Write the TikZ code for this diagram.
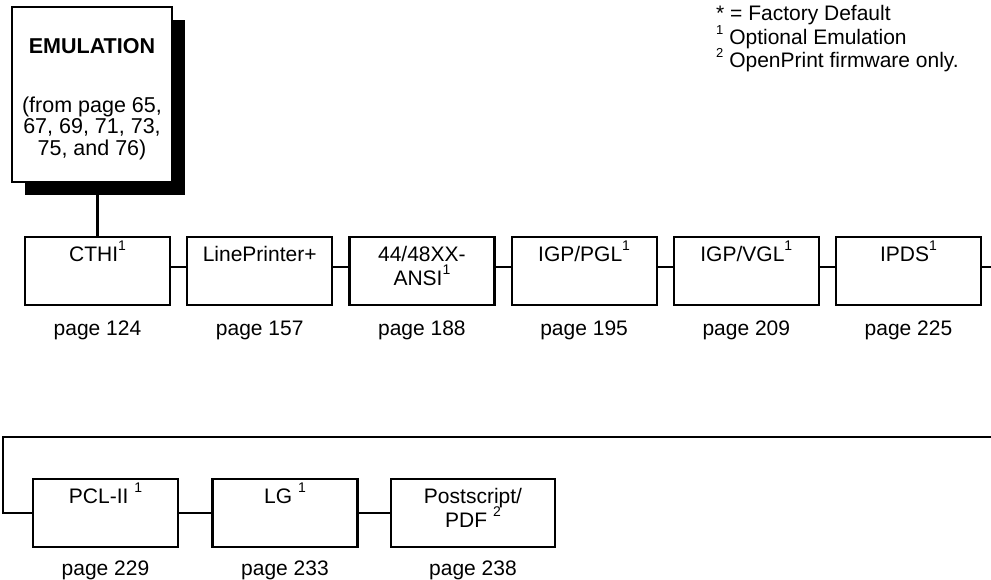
\documentclass[tikz,border=0pt]{standalone}
\usepackage{fontspec}
\setmainfont{Liberation Sans}
\usetikzlibrary{positioning, shadows}
\newcommand{\fnmark}[2][14]{\smash{\raisebox{0.48em}{\fontsize{#1}{#1}\selectfont #2}}}
\newcommand{\menutext}[2][145pt]{\parbox[t][68pt][t]{#1}{\centering\rule{0pt}{24pt}#2}}

\begin{document}
\begin{tikzpicture}[x=1pt, y=-1pt,
    menubox/.style={draw, fill=white, line width=2.2pt, inner sep=0pt, font=\fontsize{21}{24}\selectfont},
    pagelbl/.style={inner sep=0pt, font=\fontsize{21}{24}\selectfont},
    link/.style={line width=2.2pt}]
  \useasboundingbox (0,0) rectangle (991,579);

  % --- Entry menu ---
  \node[menubox, font=\fontsize{21.5}{21.5}\selectfont,
        drop shadow={shadow xshift=13pt, shadow yshift=-13pt, fill=black, opacity=1}]
    (emu) at (92,94.5) {\parbox[t][175pt][t]{160pt}{\centering\rule{0pt}{46pt}\textbf{EMULATION}\\[37.5pt](from page 65,\\67, 69, 71, 73,\\75, and 76)}};

  % --- Footnotes ---
  \node[anchor=north west, inner sep=0pt, align=left, font=\fontsize{21}{23.5}\selectfont]
    (notes) at (716,5.5) {* = Factory Default\\\fnmark[13]{1} Optional Emulation\\\fnmark[13]{2} OpenPrint firmware only.};

  % --- First row ---
  \node[menubox] (cthi) at (97.5,271) {\menutext{CTHI\fnmark{1}}};
  \node[menubox] (lpp)  at (259.7,271) {\menutext{LinePrinter+}};
  \node[menubox] (ansi) at (421.9,271) {\menutext{44/48XX-\\ANSI\fnmark{1}}};
  \node[menubox] (pgl)  at (584.1,271) {\menutext{IGP/PGL\fnmark{1}}};
  \node[menubox] (vgl)  at (746.3,271) {\menutext{IGP/VGL\fnmark{1}}};
  \node[menubox] (ipds) at (908.5,271) {\menutext{IPDS\fnmark{1}}};

  \node[pagelbl, below=15pt of cthi] (pg124) {page 124};
  \node[pagelbl, below=15pt of lpp]  (pg157) {page 157};
  \node[pagelbl, below=15pt of ansi] (pg188) {page 188};
  \node[pagelbl, below=15pt of pgl]  (pg195) {page 195};
  \node[pagelbl, below=15pt of vgl]  (pg209) {page 209};
  \node[pagelbl, below=15pt of ipds] (pg225) {page 225};

  % --- Second row ---
  \node[menubox] (pcl) at (105.5,513) {\menutext{PCL-II \fnmark{1}}};
  \node[menubox] (lg)  at (285,513)   {\menutext{LG \fnmark{1}}};
  \node[menubox] (ps)  at (473,513)   {\menutext[164pt]{Postscript/\\PDF \fnmark{2}}};

  \node[pagelbl, below=13pt of pcl] (pg229) {page 229};
  \node[pagelbl, below=13pt of lg]  (pg233) {page 233};
  \node[pagelbl, below=13pt of ps]  (pg238) {page 238};

  % --- Connectors ---
  \draw[link] (cthi.north |- emu.south) -- (cthi.north);
  \draw[link] ([yshift=4pt]cthi.east) -- ([yshift=4pt]lpp.west);
  \draw[link] ([yshift=4pt]lpp.east)  -- ([yshift=4pt]ansi.west);
  \draw[link] ([yshift=4pt]ansi.east) -- ([yshift=4pt]pgl.west);
  \draw[link] ([yshift=4pt]pgl.east)  -- ([yshift=4pt]vgl.west);
  \draw[link] ([yshift=4pt]vgl.east)  -- ([yshift=4pt]ipds.west);
  \coordinate (out1) at (991,267);
  \draw[link] ([yshift=4pt]ipds.east) -- (out1);

  \coordinate (in2) at (991,437);
  \coordinate (turn) at (3,437);
  \draw[link] (in2) -- (turn) |- (pcl.west);
  \draw[link] (pcl) -- (lg);
  \draw[link] (lg) -- (ps);
\end{tikzpicture}
\end{document}
